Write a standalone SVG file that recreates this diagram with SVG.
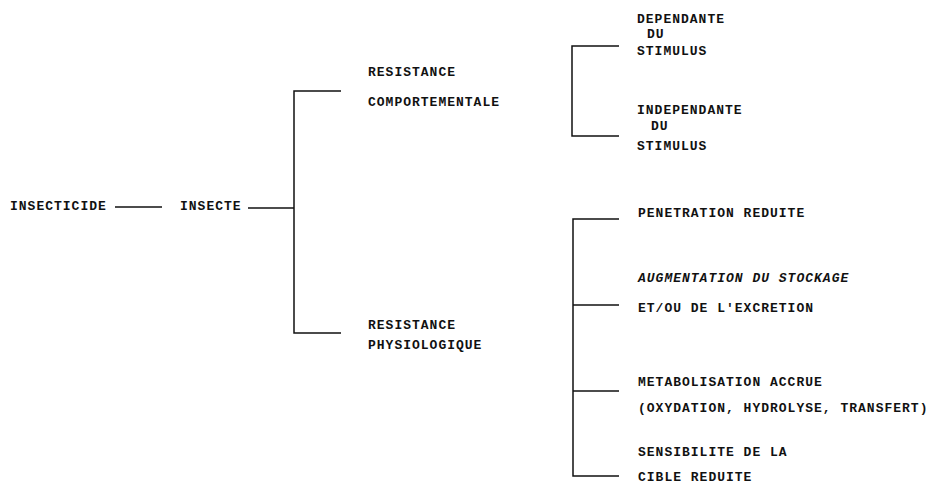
<svg xmlns="http://www.w3.org/2000/svg" width="932" height="484" viewBox="0 0 932 484">
<style>
text{font-family:"Liberation Mono","DejaVu Sans Mono",monospace;font-size:13px;font-weight:bold;letter-spacing:1px;fill:#111}
.it{font-style:italic}
.ln{stroke:#111;stroke-width:1.5;fill:none}
</style>
<rect width="932" height="484" fill="#fff"/>
<g id="connectors">
<line class="ln" x1="115" y1="207" x2="162" y2="207"/>
<line class="ln" x1="248" y1="208" x2="294" y2="208"/>
<path class="ln" d="M341 91 H294 V333 H341"/>
<path class="ln" d="M619 46 H572 V136 H619"/>
<path class="ln" d="M619 219 H573 V476 H619"/>
<line class="ln" x1="573" y1="305" x2="619" y2="305"/>
<line class="ln" x1="573" y1="391" x2="619" y2="391"/>
</g>
<g id="insecticide"><text x="10" y="210">INSECTICIDE</text></g>
<g id="insecte"><text x="180" y="210">INSECTE</text></g>
<g id="comportementale"><text x="368" y="76">RESISTANCE</text><text x="368" y="106">COMPORTEMENTALE</text></g>
<g id="physiologique"><text x="368" y="329">RESISTANCE</text><text x="368" y="349">PHYSIOLOGIQUE</text></g>
<g id="dependante"><text x="637" y="23">DEPENDANTE</text><text x="647" y="38">DU</text><text x="637" y="55">STIMULUS</text></g>
<g id="independante"><text x="637" y="114">INDEPENDANTE</text><text x="651" y="130">DU</text><text x="637" y="150">STIMULUS</text></g>
<g id="penetration"><text x="638" y="217">PENETRATION REDUITE</text></g>
<g id="stockage"><text class="it" x="638" y="282">AUGMENTATION DU STOCKAGE</text><text x="638" y="312">ET/OU DE L'EXCRETION</text></g>
<g id="metabolisation"><text x="638" y="386">METABOLISATION ACCRUE</text><text x="638" y="412">(OXYDATION, HYDROLYSE, TRANSFERT)</text></g>
<g id="cible"><text x="638" y="456">SENSIBILITE DE LA</text><text x="638" y="481">CIBLE REDUITE</text></g>
</svg>
